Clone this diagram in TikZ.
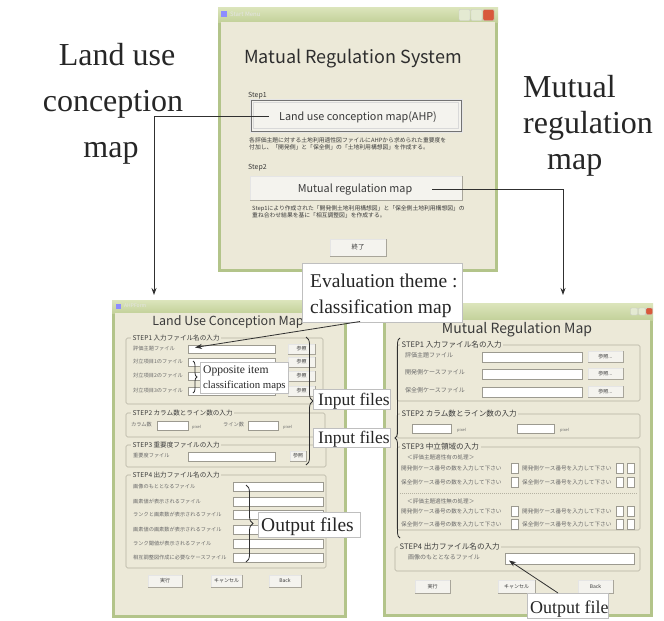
\documentclass[tikz,border=0pt]{standalone}
\usepackage{fontspec}
\setmainfont{Liberation Serif}
\newfontfamily\jp{Noto Sans CJK JP}
\usetikzlibrary{decorations.pathreplacing,arrows.meta,calc}

\definecolor{winbg}{HTML}{ECE9D8}
\definecolor{winedge}{HTML}{B3C48A}
\definecolor{titletop}{HTML}{DCE5BC}
\definecolor{titlebot}{HTML}{C3D19A}
\definecolor{closered}{HTML}{D8593B}
\definecolor{capbtn}{HTML}{E4EAD2}
\definecolor{grpline}{HTML}{B5B2A2}
\definecolor{uitext}{HTML}{3A3A3A}
\definecolor{rowtext}{HTML}{6A6A6A}
\definecolor{btnface}{HTML}{F4F3EE}
\definecolor{btnshade}{HTML}{A8A59A}
\definecolor{fieldedge}{HTML}{9C9A90}
\definecolor{inkline}{HTML}{303030}

% window frame: x1 y1 x2 y2, bottom of the caption bar
\newcommand\uiwin[5]{%
  \fill[winedge] (#1,#2) rectangle (#3,#4);
  \shade[top color=titletop,bottom color=titlebot] (#1,#2) rectangle (#3,#5);
  \fill[winbg] (#1+3,#5) rectangle (#3-3,#4-3);}
% caption button: x y size colour
\newcommand\capbtn[4]{%
  \draw[draw=white!60!gray,fill=#4,rounded corners=1pt,line width=.4pt] (#1,#2) rectangle ++(#3,#3);}
% text field
\newcommand\uifld[4]{\draw[field] (#1,#2) rectangle (#3,#4);}
% push button: name x1 y1 x2 y2 caption
\newcommand\uibtn[6]{%
  \draw[btnbody] (#2,#3) rectangle (#4,#5);
  \draw[btnedge] (#2,#5) -- (#4,#5) -- (#4,#3);
  \node[btntext] (#1) at ({(#2+#4)/2},{(#3+#5)/2}) {#6};}
% group frame: name x1 y1 x2 y2 caption
\newcommand\uigrp[6]{%
  \draw[grpbox] (#2,#3) rectangle (#4,#5);
  \node[grplabel,anchor=west] (#1) at (#2+5,#3) {#6};}
\newcommand\uirgrp[6]{%
  \draw[grpbox] (#2,#3) rectangle (#4,#5);
  \node[rgrplabel,anchor=west] (#1) at (#2+3,#3) {#6};}
% row caption: name x y text
\newcommand\uirow[4]{\node[rowlabel] (#1) at (#2,#3) {#4};}
\newcommand\uirrow[4]{\node[rrowlabel] (#1) at (#2,#3) {#4};}
\newcommand\uisrow[4]{\node[rrowlabel,font=\jp\fontsize{5.6}{6}\selectfont] (#1) at (#2,#3) {#4};}

\begin{document}
\begin{tikzpicture}[x=1pt,y=-1pt,
  field/.style={fill=white,draw=fieldedge,line width=.4pt},
  btnbody/.style={fill=btnface,draw=white!80!gray,line width=.4pt},
  btnedge/.style={draw=btnshade,line width=.7pt},
  btntext/.style={font=\jp\fontsize{5}{6}\selectfont,text=uitext,inner sep=0pt},
  grpbox/.style={draw=grpline,line width=.6pt,rounded corners=1.5pt},
  grplabel/.style={font=\jp\fontsize{6.6}{7}\selectfont,text=uitext,fill=winbg,inner xsep=1.5pt,inner ysep=0pt},
  rgrplabel/.style={font=\jp\fontsize{7.6}{8}\selectfont,text=uitext,fill=winbg,inner xsep=1.5pt,inner ysep=0pt},
  rowlabel/.style={font=\jp\fontsize{5.2}{6}\selectfont,text=rowtext,anchor=west,inner sep=0pt},
  rrowlabel/.style={font=\jp\fontsize{6}{7}\selectfont,text=rowtext,anchor=west,inner sep=0pt},
  pixlabel/.style={font=\jp\fontsize{4}{5}\selectfont,text=rowtext,anchor=west,inner sep=0pt},
  para/.style={font=\jp\fontsize{5.8}{6.5}\selectfont,text=uitext,anchor=base west,inner sep=0pt},
  steplabel/.style={font=\jp\fontsize{7}{8}\selectfont,text=uitext,anchor=base west,inner sep=0pt},
  bigtext/.style={font=\fontsize{32}{36}\selectfont,text=black!85,inner sep=0pt,anchor=base},
  callout/.style={fill=white,draw=black!25,line width=.4pt,anchor=north west,inner sep=0pt},
  calltext/.style={text=black!85,inner sep=0pt,anchor=base west},
  conn/.style={draw=inkline,line width=.9pt},
  tip/.style={-{Stealth[length=7pt,width=5pt]}},
  bracestyle/.style={draw=inkline,line width=.8pt,decorate}]

\useasboundingbox (0,0) rectangle (664,621);
\fill[white] (0,0) rectangle (664,621);

% ---------------- start menu window ----------------
\uiwin{218}{7}{498}{272}{22}
\fill[blue!45!white] (221,11) rectangle (227,17);
\node[font=\jp\fontsize{6}{7}\selectfont,text=white!80!gray,anchor=west,inner sep=0pt] (smCap) at (230,14.5) {Start Menu};
\capbtn{459}{9.5}{11}{capbtn}
\capbtn{471}{9.5}{11}{capbtn}
\capbtn{483}{9.5}{11}{closered}

\node[font=\jp\fontsize{18}{20}\selectfont,text=uitext!80!black,anchor=base,inner sep=0pt] (sysTitle) at (353,63) {Matual Regulation System};

\node[steplabel] (step1) at (248,97) {Step1};
\draw[btnbody] (250,99) rectangle (462,132);
\draw[draw=black!55,line width=1pt] (251,100) rectangle (461,131);
\draw[draw=white!70!gray,line width=.6pt] (253.5,102.5) rectangle (458.5,128.5);
\node[font=\jp\fontsize{10.8}{12}\selectfont,text=uitext,anchor=base,inner sep=0pt] (b1) at (358,120) {Land use conception map(AHP)};
\node[para] (p1a) at (249,142) {各評価主題に対する土地利用適性図ファイルにAHPから求められた重要度を};
\node[para] (p1b) at (249,149) {付加し、「開発側」と「保全側」の「土地利用構想図」を作成する。};

\node[steplabel] (step2) at (248,169) {Step2};
\draw[btnbody] (250,176) rectangle (462,200);
\draw[btnedge] (250,200) -- (462,200) -- (462,176);
\node[font=\jp\fontsize{10.8}{12}\selectfont,text=uitext,anchor=base,inner sep=0pt] (b2) at (355,192) {Mutual regulation map};
\node[para] (p2a) at (252,210) {Step1により作成された「開発側土地利用構想図」と「保全側土地利用構想図」の};
\node[para] (p2b) at (252,217) {重ね合わせ結果を基に「相互調整図」を作成する。};

\draw[btnbody] (330,239) rectangle (386,256);
\draw[btnedge] (330,256) -- (386,256) -- (386,239);
\node[font=\jp\fontsize{6.5}{7}\selectfont,text=uitext,inner sep=0pt] (endBtn) at (358,247.5) {終了};

% ---------------- land use conception window ----------------
\uiwin{112}{300}{347}{618}{313}
\fill[blue!45!white] (116,303.5) rectangle (121,308.5);
\node[font=\jp\fontsize{5}{6}\selectfont,text=white!80!gray,anchor=west,inner sep=0pt] (lwCap) at (124,306) {AHPForm};
\node[font=\jp\fontsize{12.5}{14}\selectfont,text=uitext,anchor=base,inner sep=0pt] (lwTitle) at (228,325) {Land Use Conception Map};

\uigrp{lg1}{126}{338}{323}{404}{STEP1 入力ファイル名の入力}
\uirow{lr1}{133}{349}{評価主題ファイル}
\uifld{188}{345}{275}{353}
\uibtn{lb1}{288}{344}{315}{354}{参照}
\uirow{lr2}{133}{362}{対立項目1のファイル}
\uifld{188}{358}{275}{366}
\uibtn{lb2}{288}{357}{315}{367}{参照}
\uirow{lr3}{133}{376}{対立項目2のファイル}
\uifld{188}{372}{275}{380}
\uibtn{lb3}{288}{371}{315}{381}{参照}
\uirow{lr4}{133}{391}{対立項目3のファイル}
\uifld{188}{387}{275}{395}
\uibtn{lb4}{288}{386}{315}{396}{参照}

\uigrp{lg2}{126}{413}{325}{437}{STEP2 カラム数とライン数の入力}
\uirow{lr5}{131}{425}{カラム数}
\uifld{157}{421}{188}{430}
\node[pixlabel] (lp1) at (192,427) {pixel};
\uirow{lr6}{223}{425}{ライン数}
\uifld{248}{421}{278}{430}
\node[pixlabel] (lp2) at (283,427) {pixel};

\uigrp{lg3}{126}{445}{326}{467}{STEP3 重要度ファイルの入力}
\uirow{lr7}{133}{456}{重要度ファイル}
\uifld{188}{452}{275}{461}
\uibtn{lb5}{290}{451}{306}{461}{参照}

\uigrp{lg4}{126}{475}{326}{568}{STEP4 出力ファイル名の入力}
\uirow{lo1}{133}{487}{画像のもととなるファイル}
\uifld{233}{482.5}{323}{491.5}
\uirow{lo2}{133}{502}{画素値が表示されるファイル}
\uifld{233}{497.5}{323}{506.5}
\uirow{lo3}{133}{515}{ランクと画素数が表示されるファイル}
\uifld{233}{510.5}{323}{519.5}
\uirow{lo4}{133}{530}{画素値の画素数が表示されるファイル}
\uifld{233}{525.5}{323}{534.5}
\uirow{lo5}{133}{544}{ランク閾値が表示されるファイル}
\uifld{233}{539.5}{323}{548.5}
\uirow{lo6}{133}{558}{相互調整図作成に必要なケースファイル}
\uifld{233}{553.5}{323}{562.5}

\uibtn{lx1}{148}{575}{182}{587}{実行}
\uibtn{lx2}{211}{575}{242}{587}{キャンセル}
\uibtn{lx3}{269}{575}{301}{587}{Back}

% ---------------- mutual regulation window ----------------
\uiwin{383}{303}{653}{617}{320}
\capbtn{630.5}{308}{7}{capbtn}
\capbtn{638.5}{308}{7}{capbtn}
\capbtn{646}{308}{6.5}{closered}
\node[font=\jp\fontsize{14}{16}\selectfont,text=uitext,anchor=base,inner sep=0pt] (rwTitle) at (517,333) {Mutual Regulation Map};

\uirgrp{rg1}{397}{345}{640}{401}{STEP1 入力ファイル名の入力}
\uirrow{rr1}{405}{355}{評価主題ファイル}
\uifld{482}{352}{582}{362}
\uibtn{rb1}{588}{351}{623}{362}{参照...}
\uirrow{rr2}{405}{372}{開発側ケースファイル}
\uifld{482}{369}{582}{379}
\uibtn{rb2}{588}{368}{623}{379}{参照...}
\uirrow{rr3}{405}{390}{保全側ケースファイル}
\uifld{482}{387}{582}{397}
\uibtn{rb3}{588}{386}{623}{397}{参照...}

\uirgrp{rg2}{397}{414}{640}{438}{STEP2 カラム数とライン数の入力}
\uifld{412}{424}{451}{433}
\node[pixlabel] (rp1) at (457,430) {pixel};
\uifld{517}{424}{554}{433}
\node[pixlabel] (rp2) at (560,430) {pixel};

\uirgrp{rg3}{397}{447}{640}{530}{STEP3 中立領域の入力}
\uisrow{rs1}{407}{457}{＜評価主題適性有の処理＞}
\uisrow{rs2}{401}{468}{開発側ケース番号の数を入力して下さい}
\uifld{511}{463}{518}{473}
\uisrow{rs3}{522}{468}{開発側ケース番号を入力して下さい}
\uifld{616}{463}{623}{473}
\uifld{627}{463}{634}{473}
\uisrow{rs4}{401}{482}{保全側ケース番号の数を入力して下さい}
\uifld{511}{477}{518}{487}
\uisrow{rs5}{522}{482}{保全側ケース番号を入力して下さい}
\uifld{616}{477}{623}{487}
\uifld{627}{477}{634}{487}
\draw[grpline,line width=.5pt,dash pattern=on 1pt off 1pt] (400,493.5) -- (638,493.5);
\uisrow{rs6}{407}{501}{＜評価主題適性無の処理＞}
\uisrow{rs7}{401}{511}{開発側ケース番号の数を入力して下さい}
\uifld{511}{506}{518}{516}
\uisrow{rs8}{522}{511}{開発側ケース番号を入力して下さい}
\uifld{616}{506}{623}{516}
\uifld{627}{506}{634}{516}
\uisrow{rs9}{401}{524}{保全側ケース番号の数を入力して下さい}
\uifld{511}{519}{518}{529}
\uisrow{rs10}{522}{524}{保全側ケース番号を入力して下さい}
\uifld{616}{519}{623}{529}
\uifld{627}{519}{634}{529}

\uirgrp{rg4}{395}{547}{640}{571}{STEP4 出力ファイル名の入力}
\uirrow{rr4}{408}{557}{画像のもととなるファイル}
\uifld{505}{553}{634}{564}

\uibtn{rx1}{415}{580}{450}{593}{実行}
\uibtn{rx2}{498}{580}{535}{593}{キャンセル}
\uibtn{rx3}{578}{580}{613}{593}{Back}

% ---------------- big captions ----------------
\node[bigtext] (luA) at (117,65) {Land use};
\node[bigtext] (luB) at (113,111) {conception};
\node[bigtext] (luC) at (111,157) {map};
\node[bigtext,anchor=base west] (mrA) at (523,97) {Mutual};
\node[bigtext,anchor=base west] (mrB) at (523,133) {regulation};
\node[bigtext,anchor=base west] (mrC) at (547,169) {map};

% ---------------- connectors from the start menu ----------------
\coordinate (lwIn) at (154,295);
\coordinate (rwIn) at (563,295);
\draw[conn,tip] ([xshift=-10pt]b1.west) -| (lwIn);
\draw[conn,tip] ([xshift=20pt]b2.east) -| (rwIn);

% ---------------- braces ----------------
\draw[bracestyle,decoration={brace,amplitude=7pt}] (306,337) -- (306,465);
\draw[bracestyle,decoration={brace,amplitude=4pt}] (193,361) -- (193,393);
\draw[bracestyle,decoration={brace,amplitude=7pt}] (246,485) -- (246,562);
\draw[bracestyle,decoration={brace,amplitude=5pt}] (400,538) -- (400,338);

% ---------------- callouts ----------------
\node[callout,minimum width=160pt,minimum height=59pt] (evalbox) at (302,263) {};
\node[calltext,font=\fontsize{19.5}{22}\selectfont] (evalA) at (310,287) {Evaluation theme :};
\node[calltext,font=\fontsize{19.5}{22}\selectfont] (evalB) at (310,313) {classification map};

\node[callout,minimum width=88pt,minimum height=31pt] (oppbox) at (200,362) {};
\node[calltext,font=\fontsize{11.6}{14}\selectfont] (oppA) at (203,373) {Opposite item};
\node[calltext,font=\fontsize{10.8}{14}\selectfont] (oppB) at (203,388) {classification maps};

\node[callout,minimum width=77pt,minimum height=20pt] (in1) at (313,389) {};
\node[calltext,font=\fontsize{17.5}{20}\selectfont] (in1t) at (318,405) {Input files};
\node[callout,minimum width=77pt,minimum height=19pt] (in2) at (313,428) {};
\node[calltext,font=\fontsize{17.5}{20}\selectfont] (in2t) at (318,443) {Input files};

\node[callout,minimum width=102pt,minimum height=25pt] (outL) at (258,512) {};
\node[calltext,font=\fontsize{19.5}{22}\selectfont] (outLt) at (261,531) {Output files};

\node[callout,minimum width=81pt,minimum height=25pt] (outR) at (527,593) {};
\node[calltext,font=\fontsize{18}{20}\selectfont] (outRt) at (530,613) {Output file};

% ---------------- callout pointers ----------------
\coordinate (evalFoot) at (360,321.5);
\coordinate (evalTip) at (195,347.5);
\draw[conn,tip,line width=.8pt] (evalFoot) -- (evalTip);
\coordinate (outFoot) at (558,593);
\coordinate (outTip) at (509,560.5);
\draw[conn,tip,line width=.8pt] (outFoot) -- (outTip);
\end{tikzpicture}
\end{document}
